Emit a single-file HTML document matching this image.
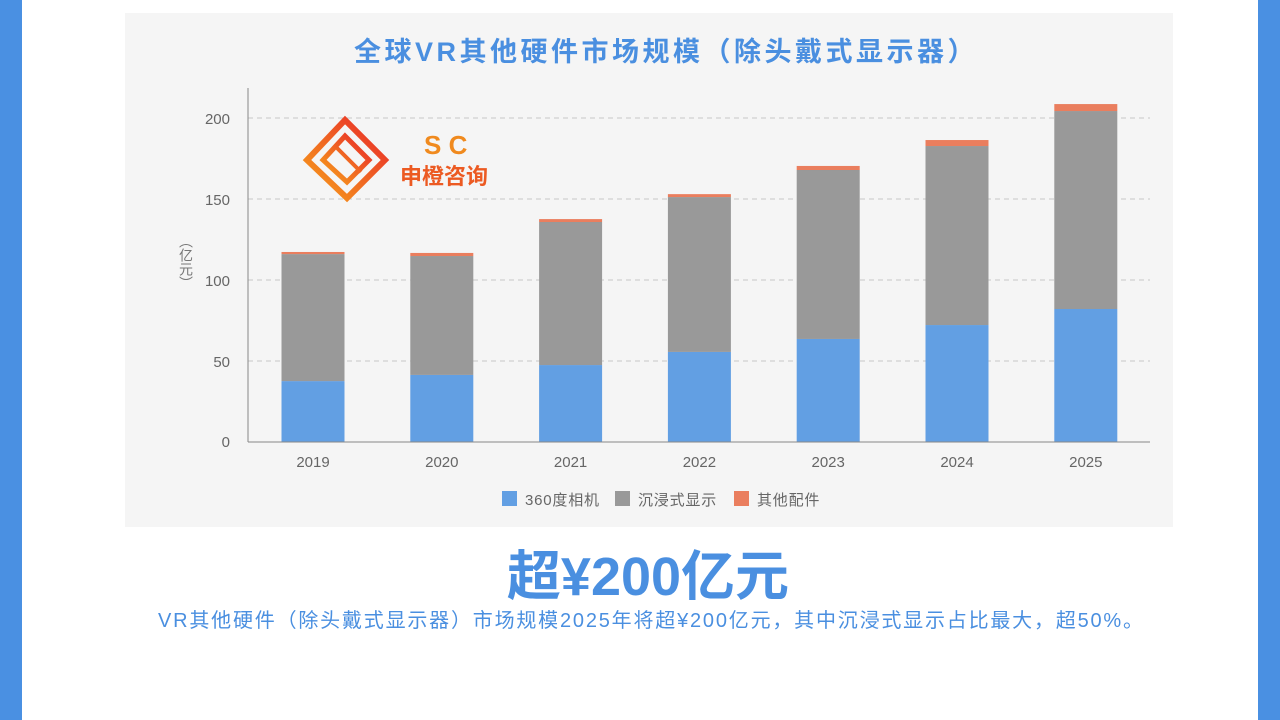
<!DOCTYPE html>
<html><head><meta charset="utf-8"><style>
body{margin:0;width:1280px;height:720px;background:#fff;position:relative;overflow:hidden;font-family:"Liberation Sans","Noto Sans CJK SC",sans-serif}
.side{position:absolute;top:0;width:22px;height:720px;background:#4a90e2}
.big{position:absolute;left:0;width:1296px;text-align:center;top:532px;font-size:54px;font-weight:bold;color:#4a8fe0}
.sub{position:absolute;left:158px;top:604px;font-size:20px;color:#4a8fe0;white-space:nowrap;letter-spacing:1.8px}
.yl{position:absolute;left:176px;top:234px;writing-mode:vertical-rl;font-size:14px;color:#777}
</style></head><body>
<div class="side" style="left:0"></div><div class="side" style="left:1258px"></div>
<svg width="1280" height="720" style="position:absolute;left:0;top:0" font-family="Liberation Sans, Noto Sans CJK SC, sans-serif">
<defs><linearGradient id="g" x1="0" y1="1" x2="1" y2="0"><stop offset="0" stop-color="#f7a21b"/><stop offset="1" stop-color="#e8262a"/></linearGradient></defs>
<rect x="125" y="13" width="1048" height="514" fill="#f5f5f5"/>
<text x="666" y="61" text-anchor="middle" font-size="27" font-weight="bold" fill="#4a8fe0" letter-spacing="3.5">全球VR其他硬件市场规模（除头戴式显示器）</text>
<g stroke="#c8c8c8" stroke-dasharray="5,4" stroke-width="1">
<line x1="248" y1="118" x2="1150" y2="118"/><line x1="248" y1="199" x2="1150" y2="199"/><line x1="248" y1="280" x2="1150" y2="280"/><line x1="248" y1="361" x2="1150" y2="361"/></g>
<g font-size="15" fill="#666" text-anchor="end">
<text x="230" y="124">200</text><text x="230" y="205">150</text><text x="230" y="286">100</text><text x="230" y="367">50</text><text x="230" y="447">0</text></g>
<g transform="translate(345,158)">
<path d="M0,-38 L40,2 L2,40 L-38,2 Z" fill="none" stroke="url(#g)" stroke-width="6"/>
<path d="M0,-22 L24,2 L2,24 L-22,2 Z" fill="none" stroke="url(#g)" stroke-width="5"/>
<path d="M-8,-10 L16,14" stroke="url(#g)" stroke-width="4"/>
</g>
<text x="424" y="154" font-size="26" font-weight="bold" fill="#f08a1e">S C</text>
<text x="400" y="184" font-size="22" font-weight="bold" fill="#ec5a22">申橙咨询</text>
<g id="bars"></g>
<line x1="248" y1="88" x2="248" y2="442" stroke="#888"/>
<line x1="248" y1="442" x2="1150" y2="442" stroke="#888"/>
<g font-size="15" fill="#666" text-anchor="middle" id="xl"></g>
<g font-size="15" fill="#666">
<rect x="502" y="491" width="15" height="15" fill="#629fe3"/><text x="525" y="505" letter-spacing="0.8">360度相机</text>
<rect x="615" y="491" width="15" height="15" fill="#999"/><text x="638" y="505" letter-spacing="0.8">沉浸式显示</text>
<rect x="734" y="491" width="15" height="15" fill="#ea7e5e"/><text x="757" y="505" letter-spacing="0.8">其他配件</text>
</g>
</svg>
<div class="yl">（亿元）</div>
<div class="big">超¥200亿元</div>
<div class="sub">VR其他硬件（除头戴式显示器）市场规模2025年将超¥200亿元，其中沉浸式显示占比最大，超50%。</div>
<script>
var d=[[2019,37.6,116,117.3],[2020,41.4,114.8,116.7],[2021,47.5,135.8,137.6],[2022,55.6,151.2,153],[2023,63.6,167.9,170.4],[2024,72.2,182.7,186.4],[2025,82.1,204.3,208.6]];
var s="",t="",k=1.62;
d.forEach(function(r,i){var c=313+i*128.8,x=c-31.5;
function y(v){return 442-v*k}
s+='<rect x="'+x+'" y="'+y(r[1])+'" width="63" height="'+r[1]*k+'" fill="#629fe3"/>';
s+='<rect x="'+x+'" y="'+y(r[2])+'" width="63" height="'+(r[2]-r[1])*k+'" fill="#999"/>';
s+='<rect x="'+x+'" y="'+y(r[3])+'" width="63" height="'+(r[3]-r[2])*k+'" fill="#ea7e5e"/>';
t+='<text x="'+c+'" y="467">'+r[0]+'</text>';});
document.getElementById('bars').innerHTML=s;document.getElementById('xl').innerHTML=t;
</script>
</body></html>
